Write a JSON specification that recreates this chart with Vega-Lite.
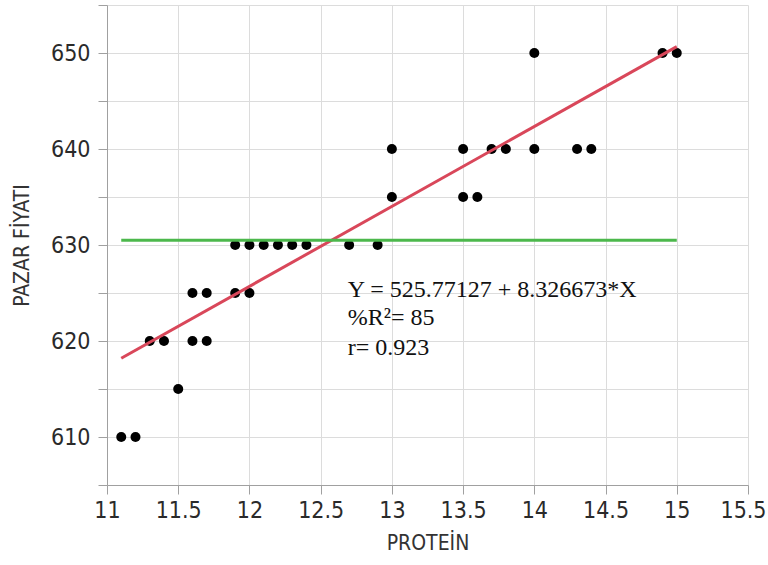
{
  "$schema": "https://vega.github.io/schema/vega-lite/v6.json",
  "width": 641,
  "height": 480,
  "autosize": {"type": "none"},
  "padding": {"left": 107, "top": 5, "right": 20, "bottom": 80},
  "background": "white",
  "config": {
    "view": {"stroke": null},
    "axis": {
      "labelFont": "DejaVu Sans Condensed",
      "labelFontSize": 23,
      "labelColor": "#2a2a2a",
      "titleFont": "DejaVu Sans Condensed",
      "titleFontSize": 21,
      "titleFontWeight": "normal",
      "titleColor": "#333333",
      "domainColor": "#a0a0a0",
      "tickColor": "#a0a0a0",
      "gridColor": "#dcdcdc",
      "tickSize": 9
    }
  },
  "datasets": {
    "pts": [
      {"protein": 11.1, "fiyat": 610}, {"protein": 11.2, "fiyat": 610},
      {"protein": 11.5, "fiyat": 615},
      {"protein": 11.3, "fiyat": 620}, {"protein": 11.4, "fiyat": 620}, {"protein": 11.6, "fiyat": 620}, {"protein": 11.7, "fiyat": 620},
      {"protein": 11.6, "fiyat": 625}, {"protein": 11.7, "fiyat": 625}, {"protein": 11.9, "fiyat": 625}, {"protein": 12.0, "fiyat": 625},
      {"protein": 11.9, "fiyat": 630}, {"protein": 12.0, "fiyat": 630}, {"protein": 12.1, "fiyat": 630}, {"protein": 12.2, "fiyat": 630},
      {"protein": 12.3, "fiyat": 630}, {"protein": 12.4, "fiyat": 630}, {"protein": 12.7, "fiyat": 630}, {"protein": 12.9, "fiyat": 630},
      {"protein": 13.0, "fiyat": 635}, {"protein": 13.5, "fiyat": 635}, {"protein": 13.6, "fiyat": 635},
      {"protein": 13.0, "fiyat": 640}, {"protein": 13.5, "fiyat": 640}, {"protein": 13.7, "fiyat": 640}, {"protein": 13.8, "fiyat": 640},
      {"protein": 14.0, "fiyat": 640}, {"protein": 14.3, "fiyat": 640}, {"protein": 14.4, "fiyat": 640},
      {"protein": 14.0, "fiyat": 650}, {"protein": 14.9, "fiyat": 650}, {"protein": 15.0, "fiyat": 650}
    ],
    "fit": [
      {"protein": 11.1, "fiyat": 618.2, "seri": "fit"},
      {"protein": 15.0, "fiyat": 650.67, "seri": "fit"},
      {"protein": 11.1, "fiyat": 630.5, "seri": "mean"},
      {"protein": 15.0, "fiyat": 630.5, "seri": "mean"}
    ],
    "notes": [
      {"protein": 12.69, "fiyat": 624.55, "label": "Y = 525.77127 + 8.326673*X"},
      {"protein": 12.69, "fiyat": 621.64, "label": "%R²= 85"},
      {"protein": 12.69, "fiyat": 618.52, "label": "r= 0.923"}
    ]
  },
  "layer": [
    {
      "data": {"name": "pts"},
      "mark": {"type": "point", "filled": true, "color": "black", "size": 100, "opacity": 1},
      "encoding": {
        "x": {
          "field": "protein", "type": "quantitative", "title": "PROTEİN",
          "scale": {"domain": [11, 15.5], "nice": false, "zero": false},
          "axis": {
            "values": [11, 11.5, 12, 12.5, 13, 13.5, 14, 14.5, 15, 15.5],
            "format": "~g", "labelFlush": false, "titlePadding": 10, "labelPadding": 5,
            "labelOffset": {"condition": {"test": "datum.value === 15.5", "value": -5}, "value": 0}
          }
        },
        "y": {
          "field": "fiyat", "type": "quantitative", "title": "PAZAR FİYATI",
          "scale": {"domain": [605, 655], "nice": false, "zero": false},
          "axis": {"values": [605, 610, 615, 620, 625, 630, 635, 640, 645, 650, 655], "labelExpr": "datum.value % 10 === 0 ? datum.label : ''", "titlePadding": 18, "labelPadding": 8}
        }
      }
    },
    {
      "data": {"name": "fit"},
      "mark": {"type": "line", "strokeWidth": 3},
      "encoding": {
        "x": {"field": "protein", "type": "quantitative"},
        "y": {"field": "fiyat", "type": "quantitative"},
        "detail": {"field": "seri"},
        "color": {"field": "seri", "type": "nominal", "scale": {"domain": ["fit", "mean"], "range": ["#d9475a", "#4cb84c"]}, "legend": null}
      }
    },
    {
      "data": {"name": "notes"},
      "mark": {"type": "text", "align": "left", "baseline": "alphabetic", "font": "Liberation Serif", "fontSize": 24, "color": "#111111"},
      "encoding": {
        "x": {"field": "protein", "type": "quantitative"},
        "y": {"field": "fiyat", "type": "quantitative"},
        "text": {"field": "label"}
      }
    }
  ]
}
